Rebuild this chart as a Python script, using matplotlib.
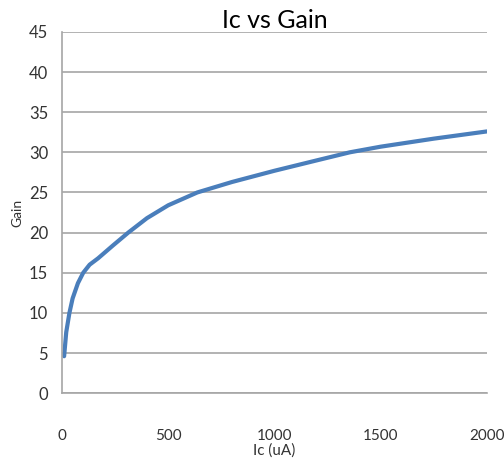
import matplotlib
matplotlib.use("Agg")
import matplotlib.pyplot as plt

# Ic in uA, gain
ic = [10, 20, 35, 50, 75, 100, 130, 170, 240, 312, 400, 500, 637, 800,
      1000, 1200, 1355, 1500, 1750, 2000]
gain = [4.6, 7.6, 10.0, 11.8, 13.7, 15.0, 16.0, 16.8, 18.4, 20.0, 21.8, 23.4,
        25.0, 26.3, 27.7, 29.0, 30.0, 30.7, 31.7, 32.6]

x_ticks = [0, 500, 1000, 1500, 2000]
y_ticks = [0, 5, 10, 15, 20, 25, 30, 35, 40, 45]

plt.rcParams['font.family'] = ['Lato', 'DejaVu Sans']

fig = plt.figure(figsize=(5.04, 4.62), dpi=100)
ax = fig.add_axes([0.123, 0.149, 0.843, 0.782])

ax.plot(ic, gain, color='#4a7ebb', linewidth=3, solid_capstyle='round',
        solid_joinstyle='round')

ax.set_xlim(0, 2000)
ax.set_ylim(0, 45)
ax.set_xticks(x_ticks)
ax.set_yticks(y_ticks)
ax.tick_params(axis='both', length=0, labelsize=12, colors='#333333')
ax.tick_params(axis='x', pad=26, labelsize=11)
ax.tick_params(axis='y', pad=10)

ax.grid(axis='y', color='#a6a6a6', linewidth=1.2)
ax.set_axisbelow(True)
for s in ['top', 'right']:
    ax.spines[s].set_visible(False)
for s in ['left', 'bottom']:
    ax.spines[s].set_color('#a6a6a6')
    ax.spines[s].set_linewidth(1.2)

ax.set_title('Ic vs Gain', fontsize=18, pad=1)
ax.set_xlabel('Ic (uA)', fontsize=11, labelpad=0, color='#333333')
ax.set_ylabel('Gain', fontsize=10, labelpad=4, color='#333333')

fig.savefig('out.png', dpi=100)
